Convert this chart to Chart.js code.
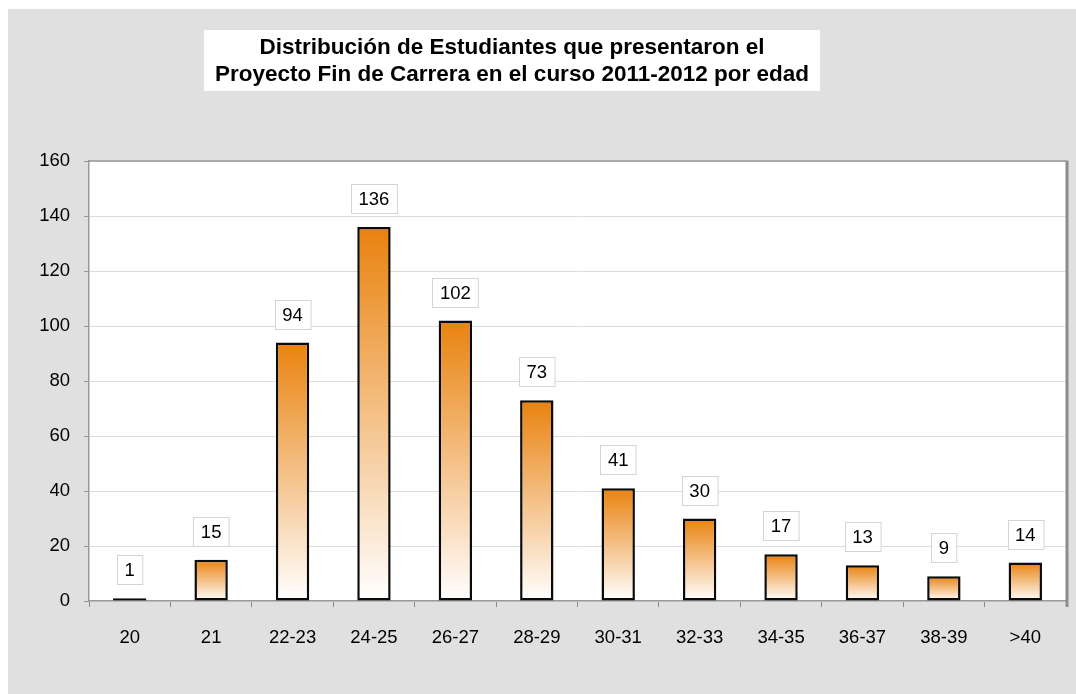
<!DOCTYPE html>
<html>
<head>
<meta charset="utf-8">
<script src="https://cdn.jsdelivr.net/npm/chart.js@4.4.0/dist/chart.umd.min.js"></script>
<style>
  body { margin: 0; background: #fff; }
  #wrap { position: absolute; left: 8px; top: 9px; width: 1068px; height: 685px; background: #e0e0e0; }
</style>
</head>
<body>
<div id="wrap"><canvas id="myChart" width="1068" height="685"></canvas></div>
<script>
const titleLines = [
  'Distribución de Estudiantes que presentaron el',
  'Proyecto Fin de Carrera en el curso 2011-2012 por edad'
];
const ageGroups = ['20', '21', '22-23', '24-25', '26-27', '28-29', '30-31', '32-33', '34-35', '36-37', '38-39', '>40'];
const students = [1, 15, 94, 136, 102, 73, 41, 30, 17, 13, 9, 14];
const yMin = 0;
const yMax = 160;
const yStep = 20;

const FONT = '"Liberation Sans", Arial, sans-serif';

// white plot background, title box, top/right frame
const framePlugin = {
  id: 'frame',
  beforeDraw(chart) {
    const { ctx, chartArea: a } = chart;
    ctx.save();
    ctx.fillStyle = '#fff';
    ctx.fillRect(a.left, a.top, a.right - a.left, a.bottom - a.top);
    ctx.restore();
  },
  afterDraw(chart) {
    const { ctx, chartArea: a } = chart;
    ctx.save();
    ctx.strokeStyle = '#999';
    ctx.lineWidth = 1.5;
    ctx.beginPath();
    ctx.moveTo(a.left, a.top);
    ctx.lineTo(a.right, a.top);
    ctx.stroke();
    ctx.lineWidth = 3;
    ctx.strokeStyle = '#8c8c8c';
    ctx.beginPath();
    ctx.moveTo(a.right + 1, a.top - 0.5);
    ctx.lineTo(a.right + 1, a.bottom + 6);
    ctx.stroke();

    // title
    ctx.fillStyle = '#fff';
    ctx.fillRect(196, 21, 616, 61);
    ctx.fillStyle = '#000';
    ctx.font = 'bold 22.5px ' + FONT;
    ctx.textAlign = 'center';
    ctx.textBaseline = 'middle';
    ctx.fillText(titleLines[0], 504, 39);
    ctx.fillText(titleLines[1], 504, 66);
    ctx.restore();
  }
};

// value labels in white boxes above the bars
const boxLabels = {
  id: 'boxLabels',
  afterDatasetsDraw(chart) {
    const { ctx } = chart;
    const meta = chart.getDatasetMeta(0);
    ctx.save();
    ctx.font = '18.5px ' + FONT;
    ctx.textAlign = 'center';
    ctx.textBaseline = 'middle';
    meta.data.forEach((bar, i) => {
      const txt = String(chart.data.datasets[0].data[i]);
      const w = ctx.measureText(txt).width + 15;
      const h = 29;
      const bottom = bar.y - 14;
      const left = Math.round(bar.x - w / 2) + 0.5;
      const top = Math.round(bottom - h) + 0.5;
      ctx.fillStyle = '#fff';
      ctx.fillRect(left, top, w, h);
      ctx.strokeStyle = '#d4d4d4';
      ctx.lineWidth = 1;
      ctx.strokeRect(left, top, w, h);
      ctx.fillStyle = '#000';
      ctx.fillText(txt, bar.x, top + h / 2 + 1);
    });
    ctx.restore();
  }
};

const canvas = document.getElementById('myChart');
new Chart(canvas.getContext('2d'), {
  type: 'bar',
  data: {
    labels: ageGroups,
    datasets: [{
      data: students,
      backgroundColor: (c) => {
        const chart = c.chart;
        const y = chart.scales.y;
        if (!y || c.raw === undefined) return '#ec8a1c';
        const top = y.getPixelForValue(c.raw);
        const bottom = y.getPixelForValue(0);
        if (!isFinite(top) || !isFinite(bottom)) return '#ec8a1c';
        const g = chart.ctx.createLinearGradient(0, top, 0, bottom);
        g.addColorStop(0, '#e9820e');
        g.addColorStop(1, '#ffffff');
        return g;
      },
      borderColor: '#0a0a0a',
      borderWidth: 2.5,
      borderSkipped: false,
      categoryPercentage: 1,
      barPercentage: 0.41
    }]
  },
  options: {
    responsive: false,
    animation: false,
    layout: { padding: { top: 152, right: 10, bottom: 33, left: 0 } },
    plugins: {
      legend: { display: false },
      title: { display: false },
      tooltip: { enabled: false }
    },
    scales: {
      x: {
        afterFit: (s) => { s.height = 60; },
        grid: { offset: true, drawOnChartArea: false, tickLength: 6, color: '#888', tickColor: '#888' },
        border: { display: true, color: '#999', width: 1.5 },
        ticks: { color: '#000', font: { family: FONT, size: 18.5 }, padding: 20, maxRotation: 0 }
      },
      y: {
        min: yMin,
        max: yMax,
        afterFit: (s) => { s.width = 81; },
        grid: { color: '#dcdcdc', tickLength: 5, tickColor: '#999' },
        border: { display: true, color: '#999', width: 1.5 },
        ticks: { stepSize: yStep, color: '#000', font: { family: FONT, size: 18.5 }, padding: 14 }
      }
    }
  },
  plugins: [framePlugin, boxLabels]
});
</script>
</body>
</html>
